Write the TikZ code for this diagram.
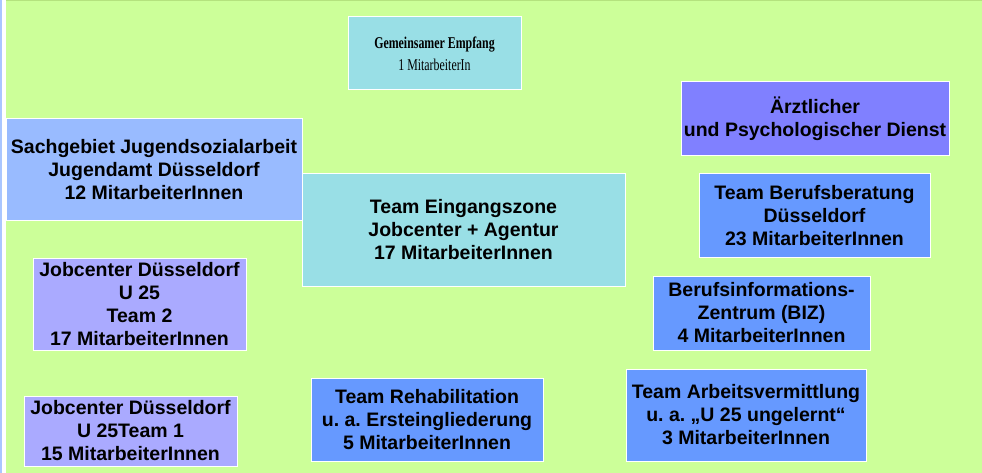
\documentclass[tikz,border=0pt]{standalone}
\usepackage{fontspec}
\setmainfont{Liberation Sans}
\newfontfamily\empfangfont[FakeStretch=0.72]{Liberation Serif}
\usepackage{xcolor}
\definecolor{bgGreen}{HTML}{CCFF99}
\definecolor{edgeGreen}{HTML}{B4E27E}
\definecolor{edgeBlue}{HTML}{AAC6FF}
\definecolor{cyanBox}{HTML}{99DFE6}
\definecolor{skyBox}{HTML}{99BBFF}
\definecolor{violetBox}{HTML}{8080FF}
\definecolor{blueBox}{HTML}{6699FF}
\definecolor{lilacBox}{HTML}{AAAAFF}
\frenchspacing

\begin{document}
\begin{tikzpicture}[x=1pt,y=-1pt,
  orgbox/.style={draw=white,line width=1pt,align=center,inner sep=0pt,
    font=\bfseries\fontsize{19.5}{23}\selectfont}]
% background and page edges
\fill[bgGreen] (0,0) rectangle (982,473);
\fill[edgeBlue] (0,0) rectangle (2,473);
\fill[white] (2,0) rectangle (6,473);
\fill[edgeGreen] (6,0) rectangle (982,1.5);
\useasboundingbox (0,0) rectangle (982,473);
% top middle
\node[orgbox,fill=cyanBox,minimum width=173,minimum height=73,
  font=\empfangfont\fontsize{16.5}{22}\selectfont] (empfang) at (434.5,53.5)
  {\textbf{Gemeinsamer Empfang}\\1 MitarbeiterIn};
\node[orgbox,fill=cyanBox,minimum width=323,minimum height=112] (eingang) at (463.5,230)
  {Team Eingangszone\\Jobcenter + Agentur\\17 MitarbeiterInnen};
% left column
\node[orgbox,fill=skyBox,minimum width=296,minimum height=101] (jugend) at (154,169.5)
  {Sachgebiet Jugendsozialarbeit\\Jugendamt Düsseldorf\\12 MitarbeiterInnen};
\node[orgbox,fill=lilacBox,minimum width=213,minimum height=92] (uteam2) at (139.5,304)
  {Jobcenter Düsseldorf\\U 25\\Team 2\\17 MitarbeiterInnen};
\node[orgbox,fill=lilacBox,minimum width=213,minimum height=70] (uteam1) at (130.5,431)
  {Jobcenter Düsseldorf\\U 25Team 1\\15 MitarbeiterInnen};
% bottom middle
\node[orgbox,fill=blueBox,minimum width=232,minimum height=83] (reha) at (427,419.5)
  {Team Rehabilitation\\u. a. Ersteingliederung\\5 MitarbeiterInnen};
% right column
\node[orgbox,fill=violetBox,minimum width=268,minimum height=74] (dienst) at (815,119)
  {Ärztlicher\\und Psychologischer Dienst};
\node[orgbox,fill=blueBox,minimum width=231,minimum height=83] (beratung) at (814.5,215.5)
  {Team Berufsberatung\\Düsseldorf\\23 MitarbeiterInnen};
\node[orgbox,fill=blueBox,minimum width=217,minimum height=74] (biz) at (761.5,313)
  {Berufsinformations-\\Zentrum (BIZ)\\4 MitarbeiterInnen};
\node[orgbox,fill=blueBox,minimum width=240,minimum height=92] (vermittlung) at (746,415)
  {Team Arbeitsvermittlung\\u. a. „U 25 ungelernt“\\3 MitarbeiterInnen};
\end{tikzpicture}
\end{document}
